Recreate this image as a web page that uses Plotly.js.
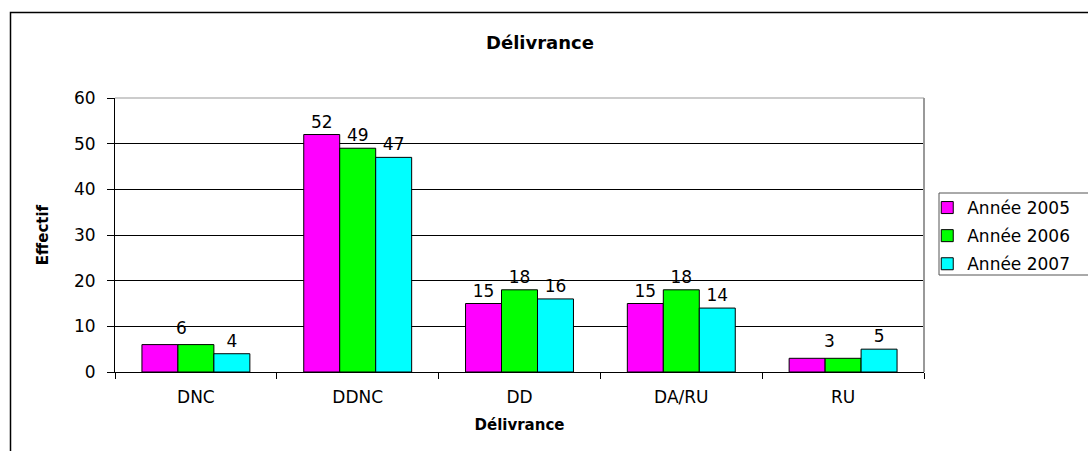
<!DOCTYPE html>
<html>
<head>
<meta charset="utf-8">
<script src="https://cdn.plot.ly/plotly-3.0.1.min.js"></script>
<style>html,body{margin:0;padding:0;background:#fff;}#chart{width:1088px;height:451px;}</style>
</head>
<body>
<div id="chart"></div>
<script>
const categories = ["DNC", "DDNC", "DD", "DA/RU", "RU"];
const seriesNames = ["Année 2005", "Année 2006", "Année 2007"];
const values2005 = [6, 52, 15, 15, 3];
const values2006 = [6, 49, 18, 18, 3];
const values2007 = [4, 47, 16, 14, 5];
// labels shown per series (Excel hid overlapping equal labels)
const labels2005 = ["", "52", "15", "15", ""];
const labels2006 = ["", "49", "18", "18", ""];
const labels2007 = ["4", "47", "16", "14", "5"];
const mergedLabelIdx = [0, 4]; // one shared label for 2005/2006
const colors = ["#FF00FF", "#00FF00", "#00FFFF"];

const FONT = "DejaVu Sans, Verdana, sans-serif";
const allValues = [values2005, values2006, values2007];
const allLabels = [labels2005, labels2006, labels2007];

const traces = allValues.map((vals, i) => ({
  type: "bar",
  name: seriesNames[i],
  x: categories,
  y: vals,
  text: allLabels[i],
  textposition: "outside",
  textfont: {family: FONT, size: 17, color: "#000"},
  constraintext: "none",
  cliponaxis: false,
  marker: {color: colors[i], line: {color: "#000", width: 1}},
  legendgroup: "g" + i,
  hoverinfo: "x+y+name"
}));

const annotations = mergedLabelIdx.map(k => ({
  x: categories[k], y: values2005[k], xref: "x", yref: "y",
  text: String(values2005[k]), showarrow: false,
  xshift: -14, yshift: 5, yanchor: "bottom",
  font: {family: FONT, size: 17, color: "#000"}
}));

const layout = {
  width: 1088, height: 451,
  margin: {l: 115, r: 164, t: 98, b: 79},
  paper_bgcolor: "#fff", plot_bgcolor: "#fff",
  font: {family: FONT, size: 17, color: "#000"},
  title: {text: "<b>Délivrance</b>", font: {family: FONT, size: 18, color: "#000"},
          x: 0.4963, xref: "container", y: 0.906, yref: "container", yanchor: "middle"},
  barmode: "group",
  bargap: 0.333, bargroupgap: 0,
  xaxis: {
    type: "category",
    showline: true, linecolor: "#000", linewidth: 1,
    ticks: "outside", tickson: "boundaries", ticklen: 6, tickcolor: "#000",
    ticklabelstandoff: 10,
    tickfont: {family: FONT, size: 17, color: "#000"},
    showgrid: false, zeroline: false,
    title: {text: "<b>Délivrance</b>", font: {family: FONT, size: 15, color: "#000"}, standoff: 13}
  },
  yaxis: {
    range: [0, 60], dtick: 10, tick0: 0,
    showline: true, linecolor: "#000", linewidth: 1,
    ticks: "outside", ticklen: 7, tickcolor: "#000",
    ticklabelstandoff: 8,
    tickfont: {family: FONT, size: 17, color: "#000"},
    showgrid: true, gridcolor: "#000", gridwidth: 1,
    zeroline: false,
    title: {text: "<b>Effectif</b>", font: {family: FONT, size: 15, color: "#000"}, standoff: 21}
  },
  legend: {
    x: 1.004, xanchor: "left", y: (372 - 190) / 274, yanchor: "top",
    bgcolor: "rgba(0,0,0,0)", borderwidth: 0,
    font: {family: FONT, size: 17, color: "#000"},
    tracegroupgap: 3, itemwidth: 30
  },
  annotations: annotations,
  shapes: [
    {type: "line", xref: "paper", yref: "paper", x0: 0, x1: 1, y0: 1, y1: 1, line: {color: "#999", width: 1}, layer: "above"},
    {type: "line", xref: "paper", yref: "paper", x0: 1, x1: 1, y0: 0, y1: 1, line: {color: "#999", width: 2}, layer: "above"},
    {type: "rect", xref: "paper", yref: "paper", x0: (939 - 115) / 809, x1: 1.3, y0: (372 - 275) / 274, y1: (372 - 193) / 274, line: {color: "#555", width: 1}},
    {type: "rect", xref: "paper", yref: "paper", x0: (10.5 - 115) / 809, x1: 1.3, y0: -0.5, y1: (372 - 12.5) / 274, line: {color: "#000", width: 1.5}}
  ],
  showlegend: true
};

Plotly.newPlot("chart", traces, layout, {displayModeBar: false, staticPlot: true});
</script>
</body>
</html>
